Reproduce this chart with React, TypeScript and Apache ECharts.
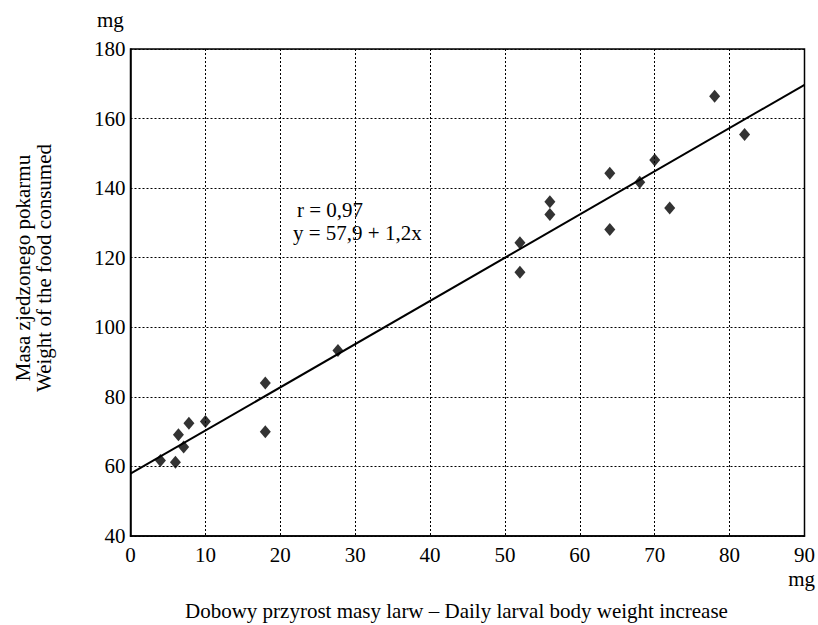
import React, { useEffect, useRef } from "react";
import * as echarts from "echarts";

const pointsX = [4, 6, 6.4, 7.1, 7.8, 10, 18, 18, 27.7, 52, 52, 56, 56, 64, 64, 68, 70, 72, 78, 82];
const pointsY = [61.7, 61.2, 69.1, 65.6, 72.4, 72.9, 84, 70, 93.3, 124.3, 115.8, 136.1, 132.4, 144.3, 128.1, 141.7, 148.1, 134.3, 166.4, 155.4];
const lineX = [0, 90];
const lineY = [57.9, 169.7];
const xTicks = [0, 10, 20, 30, 40, 50, 60, 70, 80, 90];
const yTicks = [40, 60, 80, 100, 120, 140, 160, 180];
const statsText = ["r = 0,97", "y = 57,9 + 1,2x"];
const yTitle = ["Masa zjedzonego pokarmu", "Weight of the food consumed"];
const xTitle = "Dobowy przyrost masy larw \u2013 Daily larval body weight increase";
const unit = "mg";

const FONT = "'Liberation Serif', 'Times New Roman', serif";
const FS = 21;

export default function App() {
  const ref = useRef<HTMLDivElement>(null);
  useEffect(() => {
    if (!ref.current) return;
    const chart = echarts.init(ref.current, undefined, { renderer: "svg" });
    const scatterData = pointsX.map((x, i) => [x, pointsY[i]]);
    const lineData = lineX.map((x, i) => [x, lineY[i]]);
    const txt = (text: string, extra: any) => ({
      type: "text",
      ...extra,
      style: { text, fontFamily: FONT, fontSize: FS, fill: "#000", verticalAlign: "middle", ...(extra.style || {}) },
    });
    chart.setOption({
      animation: false,
      backgroundColor: "#fff",
      grid: {
        left: 130.5,
        right: 7.5,
        top: 49,
        bottom: 89,
        show: true,
        borderColor: "#000",
        borderWidth: 1.5,
        backgroundColor: "transparent",
      },
      xAxis: {
        type: "value",
        min: xTicks[0],
        max: xTicks[xTicks.length - 1],
        interval: 10,
        axisLine: { show: true, lineStyle: { color: "#000", width: 1.5 } },
        axisTick: { show: false },
        axisLabel: { color: "#000", fontFamily: FONT, fontSize: FS, margin: 8 },
        splitLine: { show: true, lineStyle: { color: "#000", type: [2, 2], width: 1 } },
      },
      yAxis: {
        type: "value",
        min: yTicks[0],
        max: yTicks[yTicks.length - 1],
        interval: 20,
        axisLine: { show: true, lineStyle: { color: "#000", width: 1.5 } },
        axisTick: { show: false },
        axisLabel: { color: "#000", fontFamily: FONT, fontSize: FS, margin: 5 },
        splitLine: { show: true, lineStyle: { color: "#000", type: [2, 2], width: 1 } },
      },
      series: [
        {
          type: "line",
          data: lineData,
          showSymbol: false,
          lineStyle: { color: "#000", width: 2 },
          z: 3,
        },
        {
          type: "scatter",
          data: scatterData,
          symbol: "diamond",
          symbolSize: [11, 13],
          itemStyle: { color: "#000" },
          z: 4,
        },
      ],
      graphic: [
        txt(unit, { x: 97, y: 20 }),
        txt(unit, { x: 815, y: 579, style: { align: "right" } }),
        txt(xTitle, { x: 185, y: 611 }),
        txt(yTitle[0], { x: 23, y: 268, rotation: Math.PI / 2, style: { align: "center" } }),
        txt(yTitle[1], { x: 44, y: 268, rotation: Math.PI / 2, style: { align: "center" } }),
        txt(statsText[0], { x: 297, y: 210 }),
        txt(statsText[1], { x: 293, y: 233 }),
      ],
    });
    return () => chart.dispose();
  }, []);
  return <div ref={ref} style={{ width: 818, height: 625, position: "absolute", left: 0, top: 0 }} />;
}
